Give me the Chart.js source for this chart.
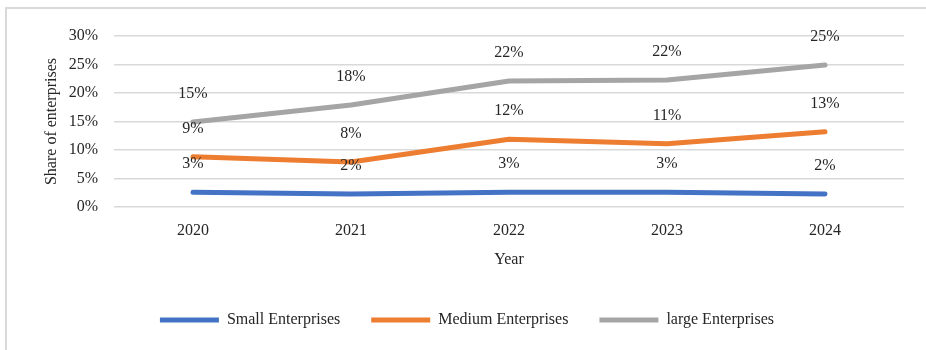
<!DOCTYPE html>
<html>
<head>
<meta charset="utf-8">
<script src="https://cdn.jsdelivr.net/npm/chart.js@4.4.1/dist/chart.umd.min.js"></script>
<style>
  body { margin: 0; background: #fff; }
  #frame { position: absolute; left: 5px; top: 7px; width: 921px; height: 343px;
           border-top: 2px solid #d9d9d9; border-left: 2px solid #d9d9d9; box-sizing: border-box; }
  #chart { position: absolute; left: 0; top: 0; }
</style>
</head>
<body>
<div id="frame"></div>
<canvas id="chart" width="926" height="350"></canvas>
<script>
// values, in percent
var years = ['2020', '2021', '2022', '2023', '2024']
var smallShare = [2.6, 2.3, 2.6, 2.6, 2.3]
var mediumShare = [8.8, 7.9, 11.9, 11.1, 13.2]
var largeShare = [14.9, 17.9, 22.1, 22.3, 24.9]
var seriesNames = ['Small Enterprises', 'Medium Enterprises', 'large Enterprises']
var seriesColors = ['#4472c4', '#ed7d31', '#a5a5a5']

var font = "'Liberation Serif', 'Times New Roman', serif"
var textColor = '#262626'

function makeSet(i, values) {
    return {
        label: seriesNames[i],
        data: values,
        borderColor: seriesColors[i],
        backgroundColor: seriesColors[i],
        borderWidth: 5,
        borderCapStyle: 'round',
        borderJoinStyle: 'round',
        pointRadius: 0,
        tension: 0,
        fill: false
    }
}

// draws the rounded value 28px above each point
var valueLabels = {
    id: 'valueLabels',
    afterDatasetsDraw: function(chart) {
        var ctx = chart.ctx
        ctx.save()
        ctx.font = '16px ' + font
        ctx.fillStyle = textColor
        ctx.textAlign = 'center'
        ctx.textBaseline = 'middle'
        chart.data.datasets.forEach(function(ds, i) {
            var meta = chart.getDatasetMeta(i)
            meta.data.forEach(function(pt, j) {
                ctx.fillText(Math.round(ds.data[j]) + '%', pt.x, pt.y - 28)
            })
        })
        ctx.restore()
    }
}

// legend padding is also the gap between items, so fix its height by hand
var legendHeight = {
    id: 'legendHeight',
    beforeLayout: function(chart) {
        var lg = chart.legend
        if (lg && !lg._fixed) {
            var fit = lg.fit
            lg.fit = function() {
                fit.call(this)
                this.height = 69
            }
            lg._fixed = true
        }
    }
}

var ctx = document.getElementById('chart').getContext('2d')
var chart = new Chart(ctx, {
    type: 'line',
    data: {
        labels: years,
        datasets: [makeSet(0, smallShare), makeSet(1, mediumShare), makeSet(2, largeShare)]
    },
    options: {
        responsive: false,
        animation: false,
        devicePixelRatio: 1,
        layout: { padding: { left: 30, right: 22, top: 36, bottom: 0 } },
        plugins: {
            tooltip: { enabled: false },
            legend: {
                position: 'bottom',
                labels: {
                    usePointStyle: true,
                    pointStyle: 'line',
                    pointStyleWidth: 59,
                    padding: 31,
                    color: textColor,
                    font: { family: font, size: 16 }
                }
            }
        },
        scales: {
            x: {
                offset: true,
                grid: { display: false, drawTicks: false },
                border: { display: false },
                ticks: { color: textColor, padding: 14, font: { family: font, size: 16 } },
                title: { display: true, text: 'Year', color: textColor,
                         font: { family: font, size: 16 }, padding: { top: 0, bottom: 12 } },
                afterFit: function(scale) { scale.height = 74 }
            },
            y: {
                min: 0,
                max: 30,
                grid: { color: '#d9d9d9', lineWidth: 1.5, drawTicks: false },
                border: { display: false },
                ticks: {
                    stepSize: 5,
                    padding: 16,
                    color: textColor,
                    font: { family: font, size: 16 },
                    callback: function(v) { return v + '%' }
                },
                title: { display: true, text: 'Share of enterprises', color: textColor,
                         font: { family: font, size: 16 }, padding: { top: 12, bottom: 0 } },
                afterFit: function(scale) { scale.width = 84 }
            }
        }
    },
    plugins: [valueLabels, legendHeight]
})
</script>
</body>
</html>
